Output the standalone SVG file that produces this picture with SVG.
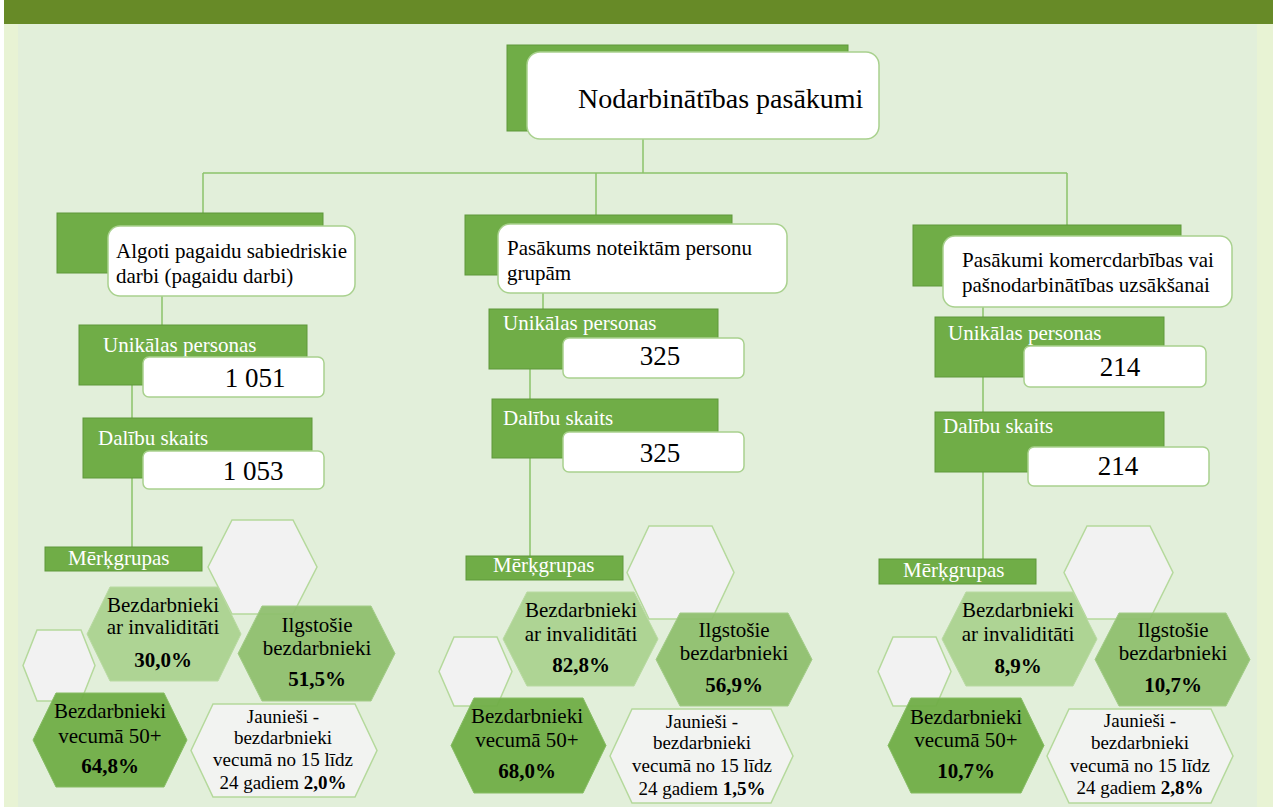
<svg xmlns="http://www.w3.org/2000/svg" width="1273" height="807" viewBox="0 0 1273 807" font-family="'Liberation Serif', 'DejaVu Serif', serif">
<style>
text{font-family:'Liberation Serif','DejaVu Serif',serif;}
.gr{fill:#70AD47;stroke:#5E983A;stroke-width:1;}
.wb{fill:#FFFFFF;stroke:#A9D18E;stroke-width:1.5;}
.lab{fill:#FFFFFF;font-size:21px;}
.num{fill:#000;font-size:27px;text-anchor:middle;}
.t2{fill:#000;font-size:21px;}
.conn{stroke:#8CC36B;stroke-width:1.5;fill:none;}
.hl{fill:#F2F2F2;stroke:#B5D99C;stroke-width:1.5;}
.h1{fill:#A9D18E;fill-opacity:0.92;stroke:#B9DAA2;stroke-width:1;}
.h2{fill:#8DBE6B;fill-opacity:0.92;stroke:#A3CC88;stroke-width:1;}
.h3{fill:#70AD47;fill-opacity:0.95;stroke:#86BC63;stroke-width:1;}
.h4{fill:#F2F2F2;fill-opacity:0.95;stroke:#B5D99C;stroke-width:1.5;}
.ht{fill:#000;font-size:21px;text-anchor:middle;}
.hs{fill:#000;font-size:19px;text-anchor:middle;}
.b{font-weight:bold;}
</style>
<rect x="0" y="0" width="1273" height="807" fill="#FFFFFF"/>
<rect x="4" y="0" width="1269" height="807" fill="#E8F3D4"/>
<rect x="18" y="24" width="1239" height="783" fill="#E2EFDA"/>
<rect x="4" y="0" width="1269" height="24" fill="#678A27"/>

<g id="connectors">
<path class="conn" d="M643 139V173M203 173H1067M203 173V213M596 173V215M1067 173V225"/>
<path class="conn" d="M162 296V325M132 385V418M132 478V547"/>
<path class="conn" d="M543 293V309M530 369V399M530 458V556"/>
<path class="conn" d="M983 307V317M983 377V412M983 472V559"/>
</g>

<g id="node-main">
<rect class="gr" x="507" y="45" width="341" height="86"/>
<rect class="wb" x="527" y="52" width="352" height="87" rx="13"/>
<text x="578" y="108" style="font-size:28px;fill:#000">Nodarbinātības pasākumi</text>
</g>

<g id="node-left">
<rect class="gr" x="57" y="213" width="266" height="60"/>
<rect class="wb" x="108" y="226" width="247" height="70" rx="12"/>
<text class="t2" x="116" y="258">Algoti pagaidu sabiedriskie</text>
<text class="t2" x="116" y="283">darbi (pagaidu darbi)</text>
</g>
<g id="node-left-unique">
<rect class="gr" x="79" y="325" width="228" height="60"/>
<text class="lab" x="103" y="352">Unikālas personas</text>
<rect class="wb" x="143" y="357" width="181" height="40" rx="6"/>
<text class="num" x="255" y="387">1 051</text>
</g>
<g id="node-left-count">
<rect class="gr" x="83" y="418" width="229" height="60"/>
<text class="lab" x="98" y="445">Dalību skaits</text>
<rect class="wb" x="143" y="451" width="181" height="38" rx="6"/>
<text class="num" x="253" y="480">1 053</text>
</g>
<g id="node-left-targets">
<rect class="gr" x="45" y="547" width="157" height="24"/>
<text class="lab" x="68" y="565">Mērķgrupas</text>
</g>
<g id="left-hexes">
<polygon class="hl" points="208,567 232,520 293,520 317,567 293,614 232,614"/>
<polygon class="hl" points="23,665.5 37,630 81,630 95,665.5 81,701 37,701"/>
<g id="l-inv"><polygon class="h1" points="87,634 110,587 218,587 241,634 218,681 110,681"/>
<text class="ht" x="163" y="612">Bezdarbnieki</text><text class="ht" x="163" y="634">ar invaliditāti</text><text class="ht b" x="163" y="667">30,0%</text></g>
<g id="l-ilg"><polygon class="h2" points="238,653.5 262,606 371,606 395,653.5 371,701 262,701"/>
<text class="ht" x="317" y="632">Ilgstošie</text><text class="ht" x="317" y="655">bezdarbnieki</text><text class="ht b" x="317" y="686">51,5%</text></g>
<g id="l-50"><polygon class="h3" points="33,740 56,693 164,693 187,740 164,787 56,787"/>
<text class="ht" x="110" y="718">Bezdarbnieki</text><text class="ht" x="110" y="743">vecumā 50+</text><text class="ht b" x="110" y="773">64,8%</text></g>
<g id="l-jaun"><polygon class="h4" points="191,750.5 213,704 355,704 377,750.5 355,797 213,797"/>
<text class="hs" x="283" y="723">Jaunieši -</text><text class="hs" x="283" y="744">bezdarbnieki</text><text class="hs" x="283" y="766">vecumā no 15 līdz</text><text class="hs" x="283" y="789">24 gadiem <tspan class="b">2,0%</tspan></text></g>
</g>

<g id="node-mid">
<rect class="gr" x="465" y="215" width="267" height="60"/>
<rect class="wb" x="498" y="224" width="289" height="69" rx="12"/>
<text class="t2" x="507" y="255">Pasākums noteiktām personu</text>
<text class="t2" x="507" y="280">grupām</text>
</g>
<g id="node-mid-unique">
<rect class="gr" x="489" y="309" width="229" height="60"/>
<text class="lab" x="503" y="330">Unikālas personas</text>
<rect class="wb" x="563" y="338" width="181" height="40" rx="6"/>
<text class="num" x="660" y="365">325</text>
</g>
<g id="node-mid-count">
<rect class="gr" x="492" y="399" width="226" height="59"/>
<text class="lab" x="503" y="425">Dalību skaits</text>
<rect class="wb" x="563" y="432" width="181" height="40" rx="6"/>
<text class="num" x="660" y="462">325</text>
</g>
<g id="node-mid-targets">
<rect class="gr" x="466" y="556" width="157" height="24"/>
<text class="lab" x="493" y="572">Mērķgrupas</text>
</g>
<g id="mid-hexes">
<polygon class="hl" points="627,572.5 649,526 712,526 734,572.5 712,619 649,619"/>
<polygon class="hl" points="439,671.5 454,637 497,637 512,671.5 497,706 454,706"/>
<g id="m-inv"><polygon class="h1" points="503,639 527,592 634,592 658,639 634,686 527,686"/>
<text class="ht" x="581" y="617">Bezdarbnieki</text><text class="ht" x="581" y="641">ar invaliditāti</text><text class="ht b" x="581" y="672">82,8%</text></g>
<g id="m-ilg"><polygon class="h2" points="656,659.5 680,613 788,613 812,659.5 788,706 680,706"/>
<text class="ht" x="734" y="637">Ilgstošie</text><text class="ht" x="734" y="660">bezdarbnieki</text><text class="ht b" x="734" y="692">56,9%</text></g>
<g id="m-50"><polygon class="h3" points="451,745.5 474,698 583,698 606,745.5 583,793 474,793"/>
<text class="ht" x="527" y="723">Bezdarbnieki</text><text class="ht" x="527" y="747">vecumā 50+</text><text class="ht b" x="527" y="778">68,0%</text></g>
<g id="m-jaun"><polygon class="h4" points="610,756 632,709 771,709 793,756 771,803 632,803"/>
<text class="hs" x="702" y="728">Jaunieši -</text><text class="hs" x="702" y="749">bezdarbnieki</text><text class="hs" x="702" y="772">vecumā no 15 līdz</text><text class="hs" x="702" y="795">24 gadiem <tspan class="b">1,5%</tspan></text></g>
</g>

<g id="node-right">
<rect class="gr" x="913" y="225" width="268" height="61"/>
<rect class="wb" x="943" y="236" width="289" height="71" rx="12"/>
<text class="t2" x="962" y="267">Pasākumi komercdarbības vai</text>
<text class="t2" x="962" y="292">pašnodarbinātības uzsākšanai</text>
</g>
<g id="node-right-unique">
<rect class="gr" x="935" y="317" width="229" height="60"/>
<text class="lab" x="948" y="340">Unikālas personas</text>
<rect class="wb" x="1024" y="346" width="182" height="41" rx="6"/>
<text class="num" x="1120" y="376">214</text>
</g>
<g id="node-right-count">
<rect class="gr" x="935" y="412" width="229" height="60"/>
<text class="lab" x="943" y="433">Dalību skaits</text>
<rect class="wb" x="1028" y="447" width="181" height="39" rx="6"/>
<text class="num" x="1118" y="475">214</text>
</g>
<g id="node-right-targets">
<rect class="gr" x="879" y="559" width="157" height="25"/>
<text class="lab" x="903" y="577">Mērķgrupas</text>
</g>
<g id="right-hexes">
<polygon class="hl" points="1064,572.5 1087,526 1150,526 1173,572.5 1150,619 1087,619"/>
<polygon class="hl" points="878,671.5 893,637 936,637 951,671.5 936,706 893,706"/>
<g id="r-inv"><polygon class="h1" points="942,639 966,592 1073,592 1097,639 1073,686 966,686"/>
<text class="ht" x="1018" y="617">Bezdarbnieki</text><text class="ht" x="1018" y="641">ar invaliditāti</text><text class="ht b" x="1018" y="673">8,9%</text></g>
<g id="r-ilg"><polygon class="h2" points="1095,659.5 1119,613 1226,613 1250,659.5 1226,706 1119,706"/>
<text class="ht" x="1173" y="637">Ilgstošie</text><text class="ht" x="1173" y="660">bezdarbnieki</text><text class="ht b" x="1173" y="692">10,7%</text></g>
<g id="r-50"><polygon class="h3" points="888,745.5 911,698 1021,698 1044,745.5 1021,793 911,793"/>
<text class="ht" x="966" y="724">Bezdarbnieki</text><text class="ht" x="966" y="747">vecumā 50+</text><text class="ht b" x="966" y="778">10,7%</text></g>
<g id="r-jaun"><polygon class="h4" points="1047,756 1069,709 1211,709 1233,756 1211,803 1069,803"/>
<text class="hs" x="1140" y="727">Jaunieši -</text><text class="hs" x="1140" y="749">bezdarbnieki</text><text class="hs" x="1140" y="772">vecumā no 15 līdz</text><text class="hs" x="1140" y="794">24 gadiem <tspan class="b">2,8%</tspan></text></g>
</g>
</svg>
